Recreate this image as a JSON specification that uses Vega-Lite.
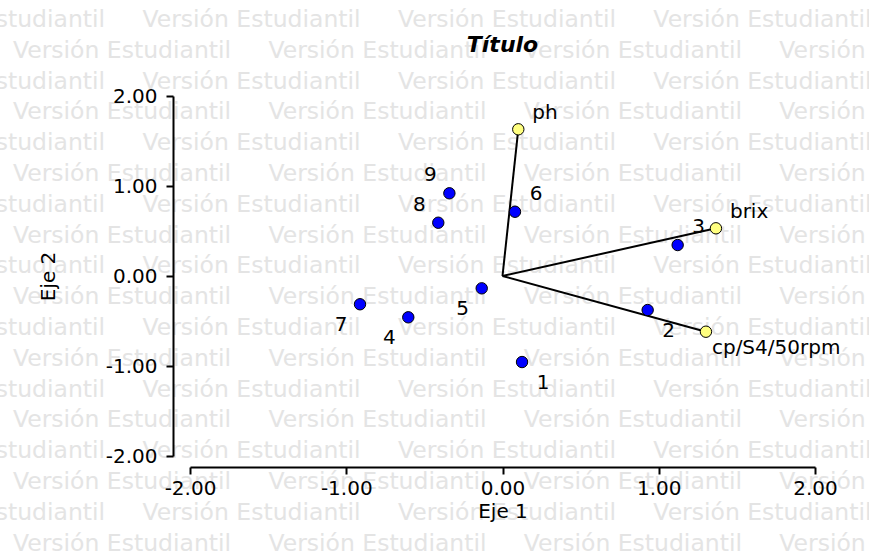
{
  "$schema": "https://vega.github.io/schema/vega-lite/v6.json",
  "width": 625,
  "height": 360,
  "autosize": {"type": "none"},
  "padding": {"left": 190, "top": 96, "right": 54, "bottom": 97},
  "background": "white",
  "config": {"view": {"stroke": null}, "font": "DejaVu Sans"},
  "title": {"text": "Título", "font": "DejaVu Sans", "fontSize": 22, "fontWeight": "bold", "fontStyle": "italic", "color": "black", "anchor": "middle", "frame": "group", "offset": 0, "dy": 49},
  "datasets": {
    "watermark": [
      {"x": -3.939, "y": 2.844, "t": "Versión Estudiantil\u00a0\u00a0\u00a0\u00a0\u00a0Versión Estudiantil\u00a0\u00a0\u00a0\u00a0\u00a0Versión Estudiantil\u00a0\u00a0\u00a0\u00a0\u00a0Versión Estudiantil\u00a0\u00a0\u00a0\u00a0\u00a0Versión Estudiantil"},
      {"x": -3.133, "y": 2.502, "t": "Versión Estudiantil\u00a0\u00a0\u00a0\u00a0\u00a0Versión Estudiantil\u00a0\u00a0\u00a0\u00a0\u00a0Versión Estudiantil\u00a0\u00a0\u00a0\u00a0\u00a0Versión Estudiantil"},
      {"x": -3.939, "y": 2.160, "t": "Versión Estudiantil\u00a0\u00a0\u00a0\u00a0\u00a0Versión Estudiantil\u00a0\u00a0\u00a0\u00a0\u00a0Versión Estudiantil\u00a0\u00a0\u00a0\u00a0\u00a0Versión Estudiantil\u00a0\u00a0\u00a0\u00a0\u00a0Versión Estudiantil"},
      {"x": -3.133, "y": 1.818, "t": "Versión Estudiantil\u00a0\u00a0\u00a0\u00a0\u00a0Versión Estudiantil\u00a0\u00a0\u00a0\u00a0\u00a0Versión Estudiantil\u00a0\u00a0\u00a0\u00a0\u00a0Versión Estudiantil"},
      {"x": -3.939, "y": 1.476, "t": "Versión Estudiantil\u00a0\u00a0\u00a0\u00a0\u00a0Versión Estudiantil\u00a0\u00a0\u00a0\u00a0\u00a0Versión Estudiantil\u00a0\u00a0\u00a0\u00a0\u00a0Versión Estudiantil\u00a0\u00a0\u00a0\u00a0\u00a0Versión Estudiantil"},
      {"x": -3.133, "y": 1.133, "t": "Versión Estudiantil\u00a0\u00a0\u00a0\u00a0\u00a0Versión Estudiantil\u00a0\u00a0\u00a0\u00a0\u00a0Versión Estudiantil\u00a0\u00a0\u00a0\u00a0\u00a0Versión Estudiantil"},
      {"x": -3.939, "y": 0.791, "t": "Versión Estudiantil\u00a0\u00a0\u00a0\u00a0\u00a0Versión Estudiantil\u00a0\u00a0\u00a0\u00a0\u00a0Versión Estudiantil\u00a0\u00a0\u00a0\u00a0\u00a0Versión Estudiantil\u00a0\u00a0\u00a0\u00a0\u00a0Versión Estudiantil"},
      {"x": -3.133, "y": 0.449, "t": "Versión Estudiantil\u00a0\u00a0\u00a0\u00a0\u00a0Versión Estudiantil\u00a0\u00a0\u00a0\u00a0\u00a0Versión Estudiantil\u00a0\u00a0\u00a0\u00a0\u00a0Versión Estudiantil"},
      {"x": -3.939, "y": 0.107, "t": "Versión Estudiantil\u00a0\u00a0\u00a0\u00a0\u00a0Versión Estudiantil\u00a0\u00a0\u00a0\u00a0\u00a0Versión Estudiantil\u00a0\u00a0\u00a0\u00a0\u00a0Versión Estudiantil\u00a0\u00a0\u00a0\u00a0\u00a0Versión Estudiantil"},
      {"x": -3.133, "y": -0.236, "t": "Versión Estudiantil\u00a0\u00a0\u00a0\u00a0\u00a0Versión Estudiantil\u00a0\u00a0\u00a0\u00a0\u00a0Versión Estudiantil\u00a0\u00a0\u00a0\u00a0\u00a0Versión Estudiantil"},
      {"x": -3.939, "y": -0.578, "t": "Versión Estudiantil\u00a0\u00a0\u00a0\u00a0\u00a0Versión Estudiantil\u00a0\u00a0\u00a0\u00a0\u00a0Versión Estudiantil\u00a0\u00a0\u00a0\u00a0\u00a0Versión Estudiantil\u00a0\u00a0\u00a0\u00a0\u00a0Versión Estudiantil"},
      {"x": -3.133, "y": -0.920, "t": "Versión Estudiantil\u00a0\u00a0\u00a0\u00a0\u00a0Versión Estudiantil\u00a0\u00a0\u00a0\u00a0\u00a0Versión Estudiantil\u00a0\u00a0\u00a0\u00a0\u00a0Versión Estudiantil"},
      {"x": -3.939, "y": -1.262, "t": "Versión Estudiantil\u00a0\u00a0\u00a0\u00a0\u00a0Versión Estudiantil\u00a0\u00a0\u00a0\u00a0\u00a0Versión Estudiantil\u00a0\u00a0\u00a0\u00a0\u00a0Versión Estudiantil\u00a0\u00a0\u00a0\u00a0\u00a0Versión Estudiantil"},
      {"x": -3.133, "y": -1.604, "t": "Versión Estudiantil\u00a0\u00a0\u00a0\u00a0\u00a0Versión Estudiantil\u00a0\u00a0\u00a0\u00a0\u00a0Versión Estudiantil\u00a0\u00a0\u00a0\u00a0\u00a0Versión Estudiantil"},
      {"x": -3.939, "y": -1.947, "t": "Versión Estudiantil\u00a0\u00a0\u00a0\u00a0\u00a0Versión Estudiantil\u00a0\u00a0\u00a0\u00a0\u00a0Versión Estudiantil\u00a0\u00a0\u00a0\u00a0\u00a0Versión Estudiantil\u00a0\u00a0\u00a0\u00a0\u00a0Versión Estudiantil"},
      {"x": -3.133, "y": -2.289, "t": "Versión Estudiantil\u00a0\u00a0\u00a0\u00a0\u00a0Versión Estudiantil\u00a0\u00a0\u00a0\u00a0\u00a0Versión Estudiantil\u00a0\u00a0\u00a0\u00a0\u00a0Versión Estudiantil"},
      {"x": -3.939, "y": -2.631, "t": "Versión Estudiantil\u00a0\u00a0\u00a0\u00a0\u00a0Versión Estudiantil\u00a0\u00a0\u00a0\u00a0\u00a0Versión Estudiantil\u00a0\u00a0\u00a0\u00a0\u00a0Versión Estudiantil\u00a0\u00a0\u00a0\u00a0\u00a0Versión Estudiantil"},
      {"x": -3.133, "y": -2.973, "t": "Versión Estudiantil\u00a0\u00a0\u00a0\u00a0\u00a0Versión Estudiantil\u00a0\u00a0\u00a0\u00a0\u00a0Versión Estudiantil\u00a0\u00a0\u00a0\u00a0\u00a0Versión Estudiantil"}
    ],
    "obs": [
      {"label": "1", "x": 0.125, "y": -0.956},
      {"label": "2", "x": 0.929, "y": -0.378},
      {"label": "3", "x": 1.121, "y": 0.344},
      {"label": "4", "x": -0.603, "y": -0.459},
      {"label": "5", "x": -0.133, "y": -0.137},
      {"label": "6", "x": 0.080, "y": 0.714},
      {"label": "7", "x": -0.912, "y": -0.314},
      {"label": "8", "x": -0.411, "y": 0.592},
      {"label": "9", "x": -0.340, "y": 0.919}
    ],
    "vars": [
      {"label": "ph", "x": 0.101, "y": 1.630},
      {"label": "brix", "x": 1.366, "y": 0.530},
      {"label": "cp/S4/50rpm", "x": 1.302, "y": -0.619}
    ]
  },
  "encoding": {
    "x": {
      "field": "x", "type": "quantitative", "title": "Eje 1",
      "scale": {"domain": [-2, 2], "nice": false, "zero": false},
      "axis": {"values": [-2, -1, 0, 1, 2], "labelExpr": "(datum.value < 0 ? '-' : '') + format(abs(datum.value), '.2f')", "offset": 11, "grid": false, "domainColor": "black", "domainWidth": 2, "tickColor": "black", "tickWidth": 2, "tickSize": 7, "labelFont": "DejaVu Sans", "labelFontSize": 20, "labelColor": "black", "labelPadding": 4, "labelFlush": false, "labelOverlap": false, "titleFont": "DejaVu Sans", "titleFontSize": 20, "titleFontWeight": "normal", "titleColor": "black", "titlePadding": 3, "zindex": 1}
    },
    "y": {
      "field": "y", "type": "quantitative", "title": "Eje 2",
      "scale": {"domain": [-2, 2], "nice": false, "zero": false},
      "axis": {"values": [-2, -1, 0, 1, 2], "labelExpr": "(datum.value < 0 ? '-' : '') + format(abs(datum.value), '.2f')", "offset": 17, "grid": false, "domainColor": "black", "domainWidth": 2, "tickColor": "black", "tickWidth": 2, "tickSize": 7, "labelFont": "DejaVu Sans", "labelFontSize": 20, "labelColor": "black", "labelPadding": 9, "labelFlush": false, "labelOverlap": false, "titleFont": "DejaVu Sans", "titleFontSize": 20, "titleFontWeight": "normal", "titleColor": "black", "titlePadding": 47, "zindex": 1}
    }
  },
  "layer": [
    {
      "data": {"name": "watermark"},
      "mark": {"type": "text", "align": "left", "baseline": "middle", "font": "DejaVu Sans", "fontSize": 23.5, "color": "#e4e4e4"},
      "encoding": {"text": {"field": "t"}}
    },
    {
      "data": {"name": "vars"},
      "mark": {"type": "rule", "color": "black", "strokeWidth": 2},
      "encoding": {"x2": {"datum": 0}, "y2": {"datum": 0}}
    },
    {
      "data": {"name": "obs"},
      "mark": {"type": "circle", "size": 130, "fill": "#0000ff", "stroke": "black", "strokeWidth": 1, "opacity": 1}
    },
    {
      "data": {"name": "vars"},
      "mark": {"type": "circle", "size": 130, "fill": "#ffff80", "stroke": "black", "strokeWidth": 1, "opacity": 1}
    },
    {
      "data": {"name": "obs"},
      "transform": [{"filter": "datum.x > 0 && datum.y > 0"}],
      "mark": {"type": "text", "align": "center", "baseline": "middle", "dx": 21, "dy": -18, "font": "DejaVu Sans", "fontSize": 20, "color": "black"},
      "encoding": {"text": {"field": "label"}}
    },
    {
      "data": {"name": "obs"},
      "transform": [{"filter": "datum.x <= 0 && datum.y > 0"}],
      "mark": {"type": "text", "align": "center", "baseline": "middle", "dx": -19, "dy": -18, "font": "DejaVu Sans", "fontSize": 20, "color": "black"},
      "encoding": {"text": {"field": "label"}}
    },
    {
      "data": {"name": "obs"},
      "transform": [{"filter": "datum.x > 0 && datum.y <= 0"}],
      "mark": {"type": "text", "align": "center", "baseline": "middle", "dx": 21, "dy": 21, "font": "DejaVu Sans", "fontSize": 20, "color": "black"},
      "encoding": {"text": {"field": "label"}}
    },
    {
      "data": {"name": "obs"},
      "transform": [{"filter": "datum.x <= 0 && datum.y <= 0"}],
      "mark": {"type": "text", "align": "center", "baseline": "middle", "dx": -19, "dy": 21, "font": "DejaVu Sans", "fontSize": 20, "color": "black"},
      "encoding": {"text": {"field": "label"}}
    },
    {
      "data": {"name": "vars"},
      "transform": [{"filter": "datum.y > 0"}],
      "mark": {"type": "text", "align": "left", "baseline": "middle", "dx": 14, "dy": -16, "font": "DejaVu Sans", "fontSize": 20, "color": "black"},
      "encoding": {"text": {"field": "label"}}
    },
    {
      "data": {"name": "vars"},
      "transform": [{"filter": "datum.y <= 0"}],
      "mark": {"type": "text", "align": "left", "baseline": "middle", "dx": 6, "dy": 16, "font": "DejaVu Sans", "fontSize": 20, "color": "black"},
      "encoding": {"text": {"field": "label"}}
    }
  ]
}
